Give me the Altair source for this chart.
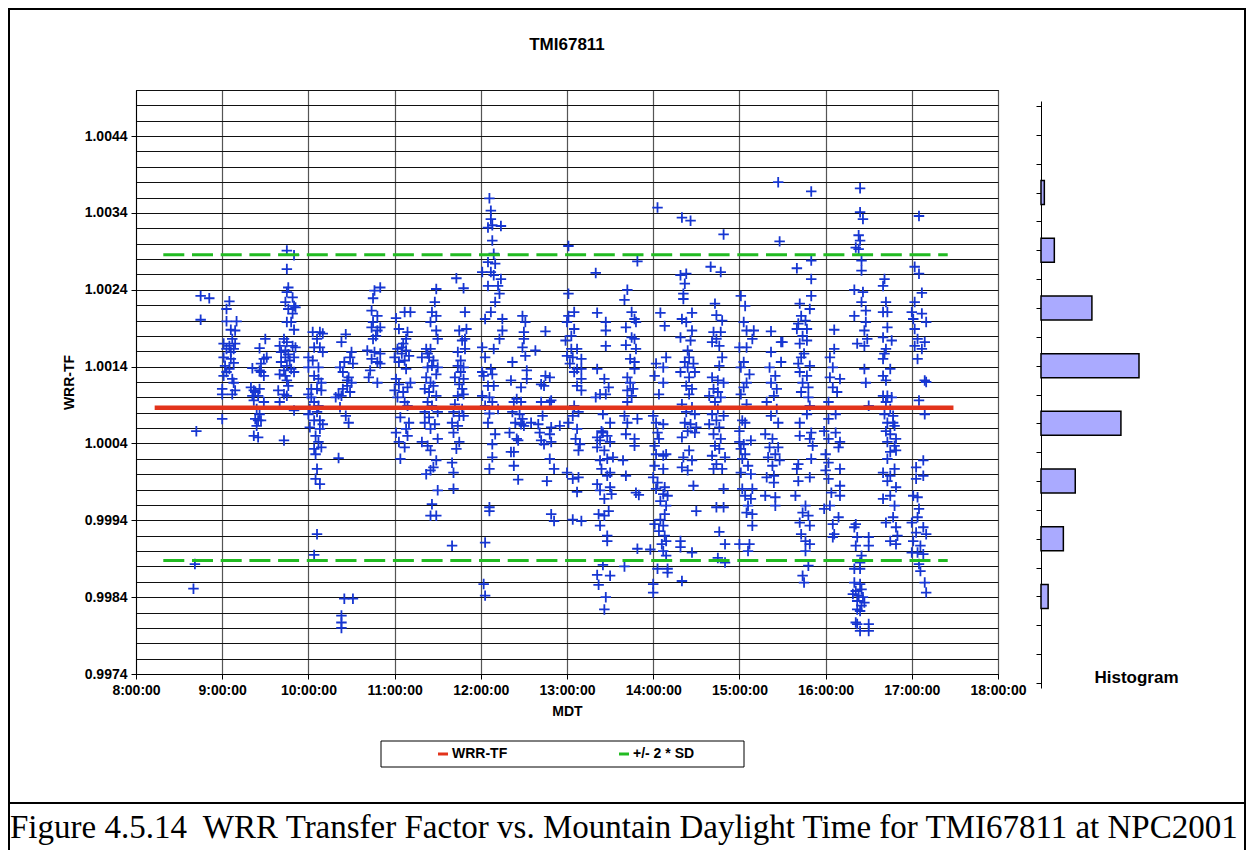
import altair as alt
import pandas as pd

# ---------------- WRR-TF readings: time (MDT, "H:MM") and transfer factor ----------------
t_early = ["8:45", "8:51", "8:45", "8:42", "8:41", "8:40"]
v_early = [1.00232, 1.00229, 1.00201, 1.00056, 0.99883, 0.99851]

t_0900 = ["9:05", "9:03", "9:03", "9:10", "9:06", "9:09", "9:07", "9:01", "9:09", "9:03", "9:08", "9:01", "9:06", "9:02",
          "9:08", "9:05", "9:01", "9:07", "9:08", "9:00", "9:09", "9:07", "9:00", "9:00", "9:05", "9:06", "9:03"]
v_0900 = [1.00225, 1.00215, 1.00199, 1.00199, 1.00188, 1.00187, 1.00176, 1.00170, 1.00170, 1.00163, 1.00163, 1.00152,
          1.00150, 1.00141, 1.00145, 1.00137, 1.00128, 1.00124, 1.00119, 1.00111, 1.00109, 1.00104, 1.00104, 1.00072,
          1.00167, 1.00159, 1.00133]

t_0920 = ["9:30", "9:26", "9:29", "9:31", "9:27", "9:21", "9:26", "9:29", "9:27", "9:20", "9:26", "9:23", "9:21", "9:25",
          "9:29", "9:22", "9:24", "9:26", "9:23", "9:25", "9:24", "9:22", "9:25", "9:27", "9:22"]
v_0920 = [1.00176, 1.00164, 1.00150, 1.00152, 1.00144, 1.00138, 1.00135, 1.00128, 1.00133, 1.00113, 1.00111, 1.00107,
          1.00102, 1.00102, 1.00094, 1.00096, 1.00085, 1.00078, 1.00072, 1.00070, 1.00063, 1.00050, 1.00048, 1.00070,
          1.00109]

t_0945 = ["9:45", "9:50", "9:45", "9:46", "9:45", "9:49", "9:44", "9:50", "9:46", "9:51", "9:49", "9:48", "9:45", "9:50",
          "9:43", "9:45", "9:40", "9:49", "9:51", "9:44", "9:46", "9:50", "9:41", "9:45", "9:43", "9:48", "9:50", "9:40",
          "9:44", "9:45", "9:46", "9:39", "9:43", "9:45", "9:40", "9:50", "9:43", "9:44", "9:47", "9:41"]
v_0945 = [1.00291, 1.00285, 1.00267, 1.00243, 1.00237, 1.00230, 1.00224, 1.00219, 1.00215, 1.00217, 1.00209, 1.00198,
          1.00198, 1.00188, 1.00176, 1.00172, 1.00167, 1.00167, 1.00165, 1.00161, 1.00156, 1.00152, 1.00146, 1.00141,
          1.00135, 1.00137, 1.00133, 1.00130, 1.00128, 1.00122, 1.00115, 1.00109, 1.00104, 1.00102, 1.00094, 1.00083,
          1.00044, 1.00152, 1.00148, 1.00159]

t_1005 = ["10:03", "10:08", "10:10", "10:06", "10:04", "10:08", "10:10", "10:00", "10:03", "10:07", "10:00", "10:04",
          "10:07", "10:09", "10:06", "10:09", "10:00", "10:02", "10:04", "10:01", "10:06", "10:00", "10:08", "10:04",
          "10:10", "10:01", "10:08", "10:05", "10:07", "10:09", "10:04", "10:05", "10:06", "10:05", "10:08", "10:06",
          "10:04", "10:02", "10:07"]
v_1005 = [1.00185, 1.00185, 1.00183, 1.00176, 1.00165, 1.00165, 1.00159, 1.00152, 1.00148, 1.00139, 1.00139, 1.00128,
          1.00124, 1.00119, 1.00111, 1.00109, 1.00104, 1.00100, 1.00094, 1.00085, 1.00081, 1.00078, 1.00070, 1.00070,
          1.00065, 1.00061, 1.00059, 1.00050, 1.00042, 1.00035, 1.00033, 1.00026, 1.00007, 0.99994, 0.99987, 0.99922,
          0.99895, 1.00111, 1.00089]

t_1020 = ["10:21", "10:25", "10:31", "10:23", "10:23", "10:23"]
v_1020 = [1.00021, 0.99838, 0.99838, 0.99816, 0.99807, 0.99800]

t_1025 = ["10:26", "10:23", "10:30", "10:29", "10:25", "10:31", "10:22", "10:24", "10:28", "10:30", "10:27", "10:24",
          "10:29", "10:21", "10:23", "10:19", "10:22", "10:26", "10:28", "10:27"]
v_1025 = [1.00182, 1.00172, 1.00159, 1.00152, 1.00146, 1.00144, 1.00139, 1.00133, 1.00126, 1.00119, 1.00115, 1.00111,
          1.00107, 1.00104, 1.00102, 1.00100, 1.00087, 1.00076, 1.00067, 1.00122]

t_1045 = ["10:50", "10:46", "10:45", "10:44", "10:48", "10:45", "10:50", "10:44", "10:48", "10:47", "10:45", "10:41",
          "10:46", "10:50", "10:44", "10:48", "10:50", "10:43", "10:42", "10:48"]
v_1045 = [1.00243, 1.00239, 1.00229, 1.00213, 1.00206, 1.00198, 1.00191, 1.00191, 1.00187, 1.00180, 1.00176, 1.00161,
          1.00159, 1.00157, 1.00150, 1.00146, 1.00144, 1.00135, 1.00126, 1.00119]

t_1105 = ["11:07", "11:11", "11:01", "11:03", "11:09", "11:08", "11:06", "11:02", "11:10", "11:05", "11:00", "11:07",
          "11:03", "11:08", "11:01", "11:11", "11:03", "11:09", "11:00", "11:06", "11:02", "11:07", "11:09", "11:04",
          "11:10", "11:08", "11:01", "11:09", "11:03", "11:07", "11:04", "11:05", "11:08"]
v_1105 = [1.00211, 1.00211, 1.00203, 1.00189, 1.00185, 1.00176, 1.00170, 1.00163, 1.00154, 1.00157, 1.00152, 1.00148,
          1.00146, 1.00137, 1.00124, 1.00119, 1.00117, 1.00113, 1.00109, 1.00107, 1.00100, 1.00094, 1.00089, 1.00074,
          1.00067, 1.00059, 1.00054, 1.00050, 1.00042, 1.00035, 1.00020, 1.00165, 1.00161]

t_1125 = ["11:29", "11:28", "11:26", "11:29", "11:25", "11:29", "11:30", "11:22", "11:25", "11:23", "11:19", "11:26",
          "11:30", "11:23", "11:29", "11:22", "11:25", "11:27", "11:21", "11:24", "11:29", "11:23", "11:26", "11:21",
          "11:30", "11:24", "11:21", "11:28", "11:25", "11:30", "11:19", "11:23", "11:25", "11:29", "11:27", "11:22",
          "11:25", "11:30", "11:26", "11:25", "11:29", "11:24", "11:27"]
v_1125 = [1.00241, 1.00224, 1.00211, 1.00206, 1.00198, 1.00187, 1.00176, 1.00163, 1.00163, 1.00157, 1.00152, 1.00141,
          1.00139, 1.00139, 1.00130, 1.00126, 1.00119, 1.00115, 1.00111, 1.00107, 1.00102, 1.00094, 1.00089, 1.00081,
          1.00081, 1.00074, 1.00067, 1.00065, 1.00059, 1.00046, 1.00042, 1.00037, 1.00031, 1.00018, 1.00009, 1.00000,
          1.00005, 0.99979, 0.99961, 0.99946, 0.99946, 1.00152, 1.00148]

t_1145 = ["11:43", "11:48", "11:49", "11:45", "11:50", "11:47", "11:49", "11:44", "11:49", "11:46", "11:44", "11:48",
          "11:46", "11:42", "11:48", "11:45", "11:47", "11:44", "11:48", "11:42", "11:47", "11:41", "11:45", "11:48",
          "11:40", "11:44", "11:41", "11:45", "11:43", "11:40", "11:41", "11:41", "11:40"]
v_1145 = [1.00255, 1.00242, 1.00211, 1.00187, 1.00189, 1.00174, 1.00176, 1.00159, 1.00163, 1.00148, 1.00141, 1.00139,
          1.00133, 1.00126, 1.00124, 1.00117, 1.00111, 1.00102, 1.00104, 1.00091, 1.00085, 1.00081, 1.00076, 1.00076,
          1.00067, 1.00063, 1.00054, 1.00042, 1.00033, 1.00015, 1.00002, 0.99981, 0.99907]

t_1205 = ["12:06", "12:07", "12:07", "12:08", "12:14", "12:05", "12:08", "12:09", "12:05", "12:10", "12:01", "12:07",
          "12:09", "12:14", "12:05", "12:12", "12:13", "12:10", "12:07", "12:03", "12:15", "12:15", "12:13", "12:01",
          "12:09", "12:03", "12:01", "12:08", "12:05", "12:09", "12:01", "12:06", "12:08", "12:03", "12:06", "12:05",
          "12:10", "12:08", "12:08", "12:06", "12:06", "12:06", "12:03", "12:02", "12:03", "12:02", "12:07", "12:12"]
v_1205 = [1.00359, 1.00343, 1.00332, 1.00324, 1.00323, 1.00321, 1.00304, 1.00287, 1.00276, 1.00274, 1.00263, 1.00263,
          1.00259, 1.00254, 1.00245, 1.00245, 1.00235, 1.00224, 1.00211, 1.00202, 1.00202, 1.00187, 1.00176, 1.00165,
          1.00163, 1.00152, 1.00133, 1.00130, 1.00115, 1.00115, 1.00102, 1.00100, 1.00094, 1.00089, 1.00079, 1.00067,
          1.00052, 1.00039, 1.00022, 1.00007, 0.99957, 0.99952, 0.99911, 0.99857, 0.99842, 1.00128, 1.00137, 1.00085]

t_1225 = ["12:29", "12:31", "12:30", "12:30", "12:29", "12:31", "12:22", "12:32", "12:21", "12:28", "12:25", "12:23",
          "12:28", "12:22", "12:27", "12:29", "12:24", "12:28", "12:20", "12:25", "12:26", "12:21", "12:23", "12:26",
          "12:23", "12:30"]
v_1225 = [1.00206, 1.00198, 1.00185, 1.00176, 1.00165, 1.00154, 1.00146, 1.00135, 1.00122, 1.00113, 1.00098, 1.00094,
          1.00094, 1.00081, 1.00078, 1.00072, 1.00067, 1.00065, 1.00054, 1.00046, 1.00044, 1.00029, 1.00011, 0.99993,
          1.00029, 1.00063]

t_1245 = ["12:45", "12:38", "12:32", "12:42", "12:48", "12:45", "12:44", "12:42", "12:48", "12:49", "12:43", "12:35",
          "12:40", "12:55", "12:49", "12:41", "12:48", "12:42", "12:49", "12:44", "12:48", "12:51", "12:46", "12:49",
          "12:51"]
v_1245 = [1.00186, 1.00161, 1.00124, 1.00117, 1.00126, 1.00128, 1.00115, 1.00094, 1.00094, 1.00096, 1.00076, 1.00067,
          1.00065, 1.00063, 1.00061, 1.00054, 1.00052, 1.00044, 1.00042, 1.00039, 1.00020, 1.00007, 0.99991, 0.99948,
          0.99939]

t_1305 = ["13:01", "13:01", "13:05", "13:01", "13:00", "13:05", "13:03", "12:59", "13:07", "13:00", "13:04", "13:10",
          "13:02", "13:07", "13:05", "13:10", "13:07", "13:10", "13:05", "13:08", "13:04", "13:01", "13:07", "13:06",
          "13:09", "13:08", "13:00", "13:04", "13:08", "13:07", "13:04", "13:10", "13:03", "13:10"]
v_1305 = [1.00297, 1.00235, 1.00211, 1.00206, 1.00198, 1.00189, 1.00180, 1.00174, 1.00163, 1.00154, 1.00152, 1.00150,
          1.00144, 1.00137, 1.00133, 1.00124, 1.00115, 1.00109, 1.00089, 1.00081, 1.00076, 1.00067, 1.00059, 1.00046,
          1.00039, 1.00031, 1.00002, 0.99994, 0.99996, 0.99977, 0.99941, 0.99939, 1.00163, 1.00137]

t_1325 = ["13:20", "13:21", "13:27", "13:27", "13:27", "13:21", "13:26", "13:29", "13:20", "13:27", "13:23", "13:25",
          "13:30", "13:24", "13:25", "13:28", "13:21", "13:23", "13:30", "13:21", "13:26", "13:32", "13:23", "13:28",
          "13:24", "13:30", "13:28", "13:21", "13:30", "13:23", "13:31", "13:26", "13:29", "13:22", "13:26", "13:23",
          "13:28", "13:28", "13:25", "13:21", "13:30", "13:22", "13:27", "13:26"]
v_1325 = [1.00262, 1.00210, 1.00198, 1.00187, 1.00167, 1.00137, 1.00124, 1.00113, 1.00100, 1.00104, 1.00104, 1.00078,
          1.00067, 1.00056, 1.00054, 1.00050, 1.00048, 1.00044, 1.00042, 1.00035, 1.00031, 1.00022, 1.00018, 1.00020,
          1.00007, 1.00002, 0.99998, 0.99987, 0.99983, 0.99979, 0.99974, 0.99968, 0.99952, 0.99948, 0.99946, 0.99933,
          0.99920, 0.99913, 0.99882, 0.99869, 0.99868, 0.99856, 0.99840, 0.99824]

t_1345 = ["13:42", "13:40", "13:45", "13:47", "13:41", "13:45", "13:41", "13:44", "13:47", "13:42", "13:44", "13:42",
          "13:45", "13:42", "13:40", "13:42", "13:41", "13:47", "13:39", "13:41", "13:48", "13:40", "13:48", "13:47",
          "13:48", "13:47", "13:46", "13:49", "13:47", "13:50", "13:49", "13:49"]
v_1345 = [1.00240, 1.00227, 1.00211, 1.00202, 1.00191, 1.00178, 1.00168, 1.00150, 1.00137, 1.00126, 1.00119, 1.00109,
          1.00102, 1.00094, 1.00076, 1.00067, 1.00052, 1.00046, 1.00018, 0.99998, 0.99976, 0.99880, 1.00198, 1.00176,
          1.00163, 1.00146, 1.00111, 1.00072, 1.00037, 0.99973, 0.99903, 1.00277]

t_high = ["14:03", "14:20", "14:26", "14:49", "15:27", "15:28"]
v_high = [1.00347, 1.00334, 1.00330, 1.00312, 1.00380, 1.00303]

t_1405 = ["14:05", "14:08", "14:09", "14:02", "14:07", "14:01", "14:07", "14:04", "14:00", "14:02", "14:07", "14:03",
          "14:04", "14:01", "14:02", "14:07", "14:09", "14:01", "14:07", "14:00", "14:03", "14:08", "14:02", "14:07",
          "14:10", "14:05", "14:09", "14:08", "14:05", "14:01", "14:07", "14:04", "14:08", "14:09", "14:06", "14:07",
          "14:09", "14:03", "14:10", "14:10", "14:00", "14:00", "13:58"]
v_1405 = [1.00210, 1.00193, 1.00152, 1.00144, 1.00139, 1.00128, 1.00119, 1.00104, 1.00076, 1.00067, 1.00065, 1.00054,
          1.00046, 1.00037, 1.00026, 1.00024, 1.00026, 1.00011, 1.00007, 0.99996, 0.99989, 0.99983, 0.99981, 0.99974,
          0.99972, 0.99965, 0.99959, 0.99948, 0.99941, 0.99935, 0.99933, 0.99926, 0.99920, 0.99913, 0.99909, 0.99900,
          0.99894, 0.99877, 0.99877, 0.99872, 0.99857, 0.99846, 0.99902]

t_1425 = ["14:19", "14:23", "14:22", "14:21", "14:21", "14:27", "14:20", "14:23", "14:27", "14:19", "14:26", "14:24",
          "14:25", "14:22", "14:28", "14:24", "14:19", "14:29", "14:25", "14:23", "14:27", "14:25", "14:20", "14:27",
          "14:23", "14:29", "14:22", "14:26", "14:30", "14:24", "14:29", "14:20", "14:25", "14:21", "14:27", "14:20",
          "14:24", "14:28", "14:30", "14:19", "14:19", "14:27", "14:20"]
v_1425 = [1.00259, 1.00261, 1.00248, 1.00235, 1.00228, 1.00210, 1.00202, 1.00198, 1.00187, 1.00178, 1.00174, 1.00161,
          1.00152, 1.00146, 1.00144, 1.00139, 1.00133, 1.00133, 1.00126, 1.00115, 1.00111, 1.00104, 1.00091, 1.00087,
          1.00081, 1.00078, 1.00067, 1.00065, 1.00061, 1.00056, 1.00054, 1.00048, 1.00031, 1.00022, 1.00018, 1.00009,
          1.00005, 0.99985, 0.99952, 0.99913, 0.99905, 0.99898, 0.99861]

t_1445 = ["14:40", "14:47", "14:43", "14:44", "14:48", "14:42", "14:47", "14:44", "14:41", "14:46", "14:48", "14:46",
          "14:41", "14:45", "14:49", "14:42", "14:45", "14:39", "14:47", "14:43", "14:45", "14:41", "14:49", "14:44",
          "14:39", "14:46", "14:42", "14:47", "14:43", "14:46", "14:41", "14:50", "14:44", "14:42", "14:48", "14:49",
          "14:44", "14:49", "14:46", "14:50", "14:45", "14:50"]
v_1445 = [1.00270, 1.00263, 1.00222, 1.00207, 1.00200, 1.00185, 1.00185, 1.00176, 1.00172, 1.00167, 1.00152, 1.00141,
          1.00126, 1.00122, 1.00119, 1.00111, 1.00107, 1.00102, 1.00100, 1.00094, 1.00085, 1.00078, 1.00076, 1.00070,
          1.00065, 1.00061, 1.00052, 1.00046, 1.00037, 1.00033, 1.00024, 1.00022, 1.00013, 1.00007, 1.00007, 0.99981,
          0.99957, 0.99957, 0.99925, 0.99909, 0.99891, 0.99885]

t_1505 = ["15:01", "15:04", "15:03", "15:05", "15:10", "15:09", "15:00", "15:05", "15:03", "15:01", "15:07", "15:05",
          "15:03", "15:01", "15:05", "15:02", "15:04", "15:00", "15:08", "15:00", "15:03", "15:01", "15:04", "15:02",
          "15:06", "15:01", "15:08", "15:02", "15:09", "15:04", "15:08", "15:06", "15:05", "15:09", "15:09", "15:00",
          "15:07", "15:06"]
v_1505 = [1.00232, 1.00219, 1.00198, 1.00187, 1.00187, 1.00176, 1.00165, 1.00165, 1.00146, 1.00139, 1.00130, 1.00119,
          1.00113, 1.00104, 1.00091, 1.00070, 1.00067, 1.00056, 1.00044, 1.00042, 1.00039, 1.00033, 1.00026, 1.00020,
          1.00011, 1.00002, 1.00000, 0.99981, 0.99981, 0.99972, 0.99968, 0.99959, 0.99950, 0.99948, 0.99933, 0.99909,
          0.99909, 0.99900]

t_1525 = ["15:22", "15:29", "15:22", "15:29", "15:21", "15:25", "15:22", "15:26", "15:24", "15:19", "15:26", "15:22",
          "15:27", "15:18", "15:23", "15:21", "15:27", "15:25", "15:20", "15:28", "15:23", "15:19", "15:24", "15:24",
          "15:18", "15:25", "15:25", "15:30"]
v_1525 = [1.00186, 1.00172, 1.00159, 1.00146, 1.00139, 1.00128, 1.00119, 1.00111, 1.00102, 1.00094, 1.00085, 1.00076,
          1.00067, 1.00052, 1.00046, 1.00035, 1.00035, 1.00026, 1.00022, 1.00018, 1.00011, 0.99996, 0.99998, 0.99989,
          0.99972, 0.99970, 0.99959, 1.00172]

t_late_high = ["15:50", "16:24", "16:24", "16:26", "17:05", "16:23", "16:24", "16:21", "16:23", "15:50", "15:40",
               "15:50", "16:25", "16:25", "17:02", "17:05"]
v_late_high = [1.00368, 1.00372, 1.00341, 1.00332, 1.00336, 1.00311, 1.00304, 1.00295, 1.00293, 1.00278, 1.00268,
               1.00254, 1.00278, 1.00265, 1.00270, 1.00261]

t_1545 = ["15:50", "15:42", "15:49", "15:43", "15:46", "15:41", "15:47", "15:40", "15:44", "15:47", "15:42", "15:45",
          "15:43", "15:41", "15:49", "15:42", "15:47", "15:44", "15:48", "15:43", "15:48", "15:49", "15:47", "15:42",
          "15:50", "15:42", "15:49", "15:51", "15:50", "15:41", "15:40", "15:49", "15:41", "15:39", "15:46", "15:44",
          "15:48", "15:42", "15:49", "15:43", "15:46", "15:49", "15:46", "15:48", "15:44", "15:45"]
v_1545 = [1.00232, 1.00222, 1.00215, 1.00206, 1.00200, 1.00196, 1.00189, 1.00189, 1.00180, 1.00174, 1.00170, 1.00157,
          1.00152, 1.00144, 1.00141, 1.00133, 1.00128, 1.00119, 1.00113, 1.00107, 1.00100, 1.00089, 1.00078, 1.00067,
          1.00054, 1.00050, 1.00046, 1.00037, 1.00020, 1.00013, 1.00007, 0.99996, 0.99991, 0.99972, 0.99959, 0.99950,
          0.99946, 0.99937, 0.99933, 0.99922, 0.99913, 0.99909, 0.99900, 0.99881, 0.99868, 0.99859]

t_1605 = ["16:06", "16:06", "16:03", "16:05", "16:03", "16:10", "16:05", "16:08", "16:02", "16:07", "16:02", "15:59",
          "16:07", "16:02", "16:10", "16:09", "16:00", "16:02", "16:00", "16:10", "16:02", "16:10", "16:04", "16:10",
          "16:03", "15:59", "16:09", "16:05", "16:06", "16:05"]
v_1605 = [1.00188, 1.00163, 1.00152, 1.00139, 1.00126, 1.00124, 1.00113, 1.00107, 1.00094, 1.00078, 1.00072, 1.00056,
          1.00054, 1.00046, 1.00042, 1.00035, 1.00026, 1.00015, 1.00005, 1.00007, 0.99994, 0.99985, 0.99976, 0.99972,
          0.99959, 0.99955, 0.99944, 0.99935, 0.99922, 0.99918]

t_1625 = ["16:20", "16:26", "16:25", "16:28", "16:20", "16:28", "16:27", "16:29", "16:22", "16:27", "16:27", "16:28",
          "16:30", "16:21", "16:20", "16:22", "16:30", "16:30", "16:21", "16:25", "16:24", "16:20", "16:24", "16:20",
          "16:24", "16:21", "16:25", "16:19", "16:23", "16:26", "16:22", "16:27", "16:25", "16:22", "16:24", "16:22",
          "16:30", "16:24", "16:30", "16:21"]
v_1625 = [1.00240, 1.00237, 1.00224, 1.00213, 1.00206, 1.00198, 1.00187, 1.00176, 1.00170, 1.00167, 1.00137, 1.00119,
          1.00089, 0.99935, 0.99931, 0.99918, 0.99918, 0.99907, 0.99907, 0.99894, 0.99885, 0.99877, 0.99877, 0.99859,
          0.99857, 0.99848, 0.99850, 0.99844, 0.99842, 0.99840, 0.99835, 0.99833, 0.99829, 0.99824, 0.99822, 0.99805,
          0.99805, 0.99796, 0.99796, 0.99807]

t_1645 = ["16:41", "16:40", "16:42", "16:40", "16:43", "16:43", "16:40", "16:46", "16:42", "16:41", "16:40", "16:45",
          "16:40", "16:42", "16:40", "16:43", "16:46", "16:42", "16:45", "16:41", "16:47", "16:43", "16:48", "16:42",
          "16:45", "16:49", "16:43", "16:48", "16:45", "16:49", "16:43", "16:48", "16:40", "16:45", "16:43", "16:49",
          "16:45", "16:40", "16:48", "16:47", "16:42", "16:49", "16:50", "16:45", "16:49", "16:47"]
v_1645 = [1.00254, 1.00245, 1.00224, 1.00211, 1.00211, 1.00191, 1.00178, 1.00174, 1.00163, 1.00157, 1.00150, 1.00137,
          1.00128, 1.00122, 1.00102, 1.00102, 1.00100, 1.00094, 1.00085, 1.00078, 1.00076, 1.00067, 1.00063, 1.00056,
          1.00052, 1.00046, 1.00042, 1.00037, 1.00029, 1.00031, 1.00020, 1.00007, 1.00002, 0.99998, 0.99991, 0.99983,
          0.99972, 0.99968, 0.99959, 0.99944, 0.99937, 0.99931, 0.99920, 0.99913, 0.99909, 1.00067]

t_1705 = ["17:07", "17:02", "17:00", "17:07", "17:01", "17:10", "17:02", "17:04", "17:09", "17:02", "17:07", "17:04",
          "17:09", "17:05", "17:09", "17:08", "17:03", "17:08", "17:03", "17:01", "17:04", "17:05", "17:04", "17:00",
          "17:08", "17:03", "17:10", "17:01", "17:06", "17:00", "17:04", "17:08", "17:05", "17:06", "17:09", "17:10",
          "17:10"]
v_1705 = [1.00236, 1.00224, 1.00211, 1.00209, 1.00202, 1.00198, 1.00189, 1.00176, 1.00172, 1.00167, 1.00163, 1.00150,
          1.00122, 1.00096, 1.00078, 1.00018, 1.00009, 0.99998, 0.99994, 0.99972, 0.99970, 0.99955, 0.99944, 0.99937,
          0.99931, 0.99924, 0.99922, 0.99913, 0.99907, 0.99898, 0.99898, 0.99896, 0.99883, 0.99874, 0.99859, 0.99846,
          1.00120]

# ---------------- reference lines ----------------
tf_mean = 1.000866          # WRR-TF (mean)
tf_two_sd = 0.00199         # 2 * SD
mean_span = ["8:13", "17:29"]
sd_span = ["8:19", "17:25"]
series_names = ["WRR-TF", "+/- 2 * SD"]

# ---------------- histogram ----------------
hist_bins = [0, 1, 2, 3, 4, 5, 6, 7, 8, 9]
hist_counts = [0, 7, 28, 107, 206, 168, 72, 47, 15, 0]

# ---------------- text ----------------
chart_title = "TMI67811"
x_title = "MDT"
y_title = "WRR-TF"
hist_title = "Histogram"
caption_text = "Figure 4.5.14\u00a0 WRR Transfer Factor vs. Mountain Daylight Time for TMI67811 at NPC2001"

# ======================================================================================
def to_hours(s):
    h, m = s.split(":")
    return int(h) + int(m) / 60.0


clusters = [(t_early, v_early), (t_0900, v_0900), (t_0920, v_0920), (t_0945, v_0945), (t_1005, v_1005),
            (t_1020, v_1020), (t_1025, v_1025), (t_1045, v_1045), (t_1105, v_1105), (t_1125, v_1125),
            (t_1145, v_1145), (t_1205, v_1205), (t_1225, v_1225), (t_1245, v_1245), (t_1305, v_1305),
            (t_1325, v_1325), (t_1345, v_1345), (t_high, v_high), (t_1405, v_1405), (t_1425, v_1425),
            (t_1445, v_1445), (t_1505, v_1505), (t_1525, v_1525), (t_late_high, v_late_high),
            (t_1545, v_1545), (t_1605, v_1605), (t_1625, v_1625), (t_1645, v_1645), (t_1705, v_1705)]
rows = []
for ts, vs in clusters:
    for t, v in zip(ts, vs):
        rows.append({"hours": to_hours(t), "tf": v})
scatter_df = pd.DataFrame(rows)

lines_df = pd.DataFrame({
    "series": [series_names[0]] * 2 + [series_names[1]] * 4,
    "line": ["mean", "mean", "upper", "upper", "lower", "lower"],
    "hours": [to_hours(mean_span[0]), to_hours(mean_span[1]),
              to_hours(sd_span[0]), to_hours(sd_span[1]),
              to_hours(sd_span[0]), to_hours(sd_span[1])],
    "tf": [tf_mean, tf_mean,
           tf_mean + tf_two_sd, tf_mean + tf_two_sd,
           tf_mean - tf_two_sd, tf_mean - tf_two_sd],
})

hist_df = pd.DataFrame({"bin": hist_bins, "count": hist_counts})
one = pd.DataFrame({"k": [0]})

FONT = "Liberation Sans"
BLUE = "#1636d2"
RED = "#e2331b"
GREEN = "#22bb22"

W, H = 862, 584

y_ticks = [round(0.9974 + 0.0002 * i, 4) for i in range(39)]
labeled = "abs(datum.value * 1000 - 997.4 - round(datum.value * 1000 - 997.4)) < 0.01"

x_enc = alt.X("hours:Q",
              scale=alt.Scale(domain=[8, 18], nice=False, zero=False),
              axis=alt.Axis(values=list(range(8, 19)), labelExpr="datum.value + ':00:00'",
                            title=x_title, grid=True, gridColor="#555555", gridWidth=1.2,
                            tickSize=5, tickColor="black", domainColor="black",
                            labelFont=FONT, labelFontSize=14, labelFontWeight="bold", labelColor="black",
                            labelPadding=4, labelFlush=False, labelOverlap=False,
                            titleFont=FONT, titleFontSize=14, titleFontWeight="bold", titleColor="black",
                            titlePadding=7))
y_enc = alt.Y("tf:Q",
              scale=alt.Scale(domain=[0.9974, 1.0050], nice=False, zero=False),
              axis=alt.Axis(values=y_ticks,
                            labelExpr=labeled + " ? format(datum.value, '.4f') : ''",
                            tickOpacity={"condition": {"test": labeled, "value": 1}, "value": 0},
                            title=y_title, grid=True, gridColor="#111111", gridWidth=1,
                            tickSize=5, tickColor="black", domainColor="black",
                            labelFont=FONT, labelFontSize=14, labelFontWeight="bold", labelColor="black",
                            labelPadding=4, labelOverlap=False,
                            titleFont=FONT, titleFontSize=14, titleFontWeight="bold", titleColor="black",
                            titlePadding=8))

plus = "M-1,0L1,0M0,-1L0,1"
scatter = alt.Chart(scatter_df).mark_point(shape=plus, filled=False, size=110, strokeWidth=1.8,
                                          color=BLUE, opacity=1).encode(x=x_enc, y=y_enc)

color_enc = alt.Color("series:N",
                      scale=alt.Scale(domain=series_names, range=[RED, GREEN]),
                      legend=alt.Legend(title=None, orient="none", legendX=300, legendY=657,
                                        direction="horizontal", symbolType="stroke", symbolSize=100,
                                        symbolStrokeWidth=3, labelFont=FONT, labelFontSize=14,
                                        labelFontWeight="bold", labelColor="black", labelOffset=2,
                                        columnPadding=105, padding=0))

green = alt.Chart(lines_df).transform_filter(alt.datum.series == series_names[1]).mark_line(
    strokeWidth=3, strokeDash=[21, 7.7]).encode(x=x_enc, y=y_enc, color=color_enc, detail="line:N")
red = alt.Chart(lines_df).transform_filter(alt.datum.series == series_names[0]).mark_line(
    strokeWidth=4.5).encode(x=x_enc, y=y_enc, color=color_enc, detail="line:N")

main = alt.layer(scatter, green, red)

hist = alt.Chart(hist_df).transform_filter(alt.datum.count > 0).transform_calculate(
    mid="datum.bin + 0.5").mark_bar(
    orient="horizontal", size=24, fill="#aaaaff", stroke="black", strokeWidth=1.5).encode(
    x=alt.X("count:Q", scale=alt.Scale(domain=[0, 206], range=[905, 1003], nice=False),
            axis=alt.Axis(orient="bottom", domain=False, ticks=False, labels=False, grid=False,
                          title=hist_title, titleX=1000, titleY=3, titleAlign="center",
                          titleBaseline="middle", titleFont=FONT, titleFontSize=17,
                          titleFontWeight="bold", titleColor="black")),
    y=alt.Y("mid:Q", scale=alt.Scale(domain=[0, 10], range=[11, 598], nice=False, zero=False),
            axis=alt.Axis(orient="left", offset=-905, values=[i * 0.5 for i in range(21)],
                          labels=False, grid=False, title=None, tickSize=5, tickColor="black",
                          domainColor="black")))

frame = alt.Chart(one).mark_rect(fillOpacity=0, stroke="black", strokeWidth=2).encode(
    x=alt.value(-127), x2=alt.value(1109), y=alt.value(-81), y2=alt.value(713))
caption_frame = alt.Chart(one).mark_rect(fillOpacity=0, stroke="black", strokeWidth=2).encode(
    x=alt.value(-127), x2=alt.value(1109), y=alt.value(713), y2=alt.value(770))
legend_box = alt.Chart(one).mark_rect(fillOpacity=0, stroke="black", strokeWidth=1).encode(
    x=alt.value(245), x2=alt.value(608), y=alt.value(651), y2=alt.value(677))
title_txt = alt.Chart(one).mark_text(text=chart_title, font=FONT, fontSize=17, fontWeight="bold",
                                     color="black", align="center", baseline="middle").encode(
    x=alt.value(431), y=alt.value(-45))
caption = alt.Chart(one).mark_text(text=caption_text, font="Liberation Serif", fontSize=33,
                                   color="black", align="left", baseline="alphabetic").encode(
    x=alt.value(-126), y=alt.value(748))

chart = alt.layer(main, hist, frame, caption_frame, legend_box, title_txt, caption).resolve_scale(
    x="independent", y="independent").properties(width=W, height=H, padding=0).configure_view(
    stroke="black", strokeWidth=1)

chart.save("out.html", embed_options={"renderer": "svg", "actions": False})
